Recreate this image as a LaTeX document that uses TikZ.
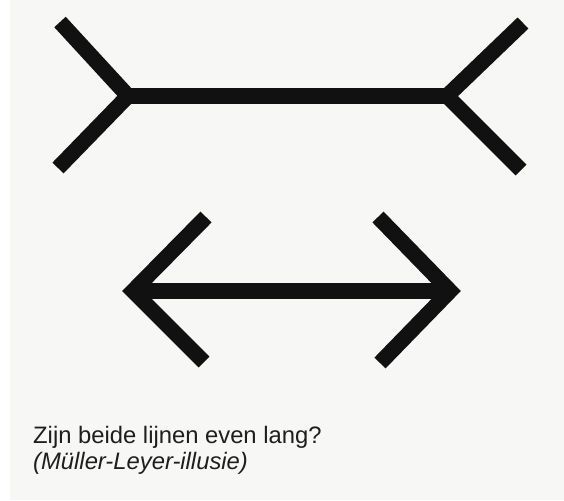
\documentclass[tikz,border=0pt]{standalone}
\usepackage{fontspec}
\setmainfont{Liberation Sans}
\definecolor{paper}{HTML}{F7F7F5}
\definecolor{ink}{HTML}{111111}
\definecolor{textink}{HTML}{1E1E1E}
\tikzset{
  bar/.style={draw=ink, line width=15.5pt, line cap=butt, line join=miter, miter limit=4},
  caption/.style={anchor=base west, inner sep=0pt, font=\fontsize{23.8}{25}\selectfont, text=textink}
}
\begin{document}
\begin{tikzpicture}[x=1pt,y=-1pt]
\useasboundingbox (0,0) rectangle (564,500);
\fill[white] (0,0) rectangle (564,500);
\fill[paper] (10,0) rectangle (564,500);
% top figure (fins outward)
\coordinate (tl) at (128,96);
\coordinate (tr) at (447,96);
\coordinate (tlu) at (60,22);
\coordinate (tld) at (58,168);
\coordinate (tru) at (523,23);
\coordinate (trd) at (521,170);
\draw[bar] (tl) -- (tr);
\draw[bar] (tlu) -- (tl) -- (tld);
\draw[bar] (tru) -- (tr) -- (trd);
% bottom figure (arrowheads)
\coordinate (bl) at (133,291);
\coordinate (br) at (450,291);
\coordinate (blu) at (206,217);
\coordinate (bld) at (204,362);
\coordinate (bru) at (378,217);
\coordinate (brd) at (380,363);
\draw[bar] (bl) -- (br);
\draw[bar] (blu) -- (bl) -- (bld);
\draw[bar] (bru) -- (br) -- (brd);
% caption
\node[caption] (q) at (33,443) {Zijn beide lijnen even lang?};
\node[caption, font=\fontsize{23.8}{25}\selectfont\itshape] (n) at (33,469) {(Müller-Leyer-illusie)};
\end{tikzpicture}
\end{document}
